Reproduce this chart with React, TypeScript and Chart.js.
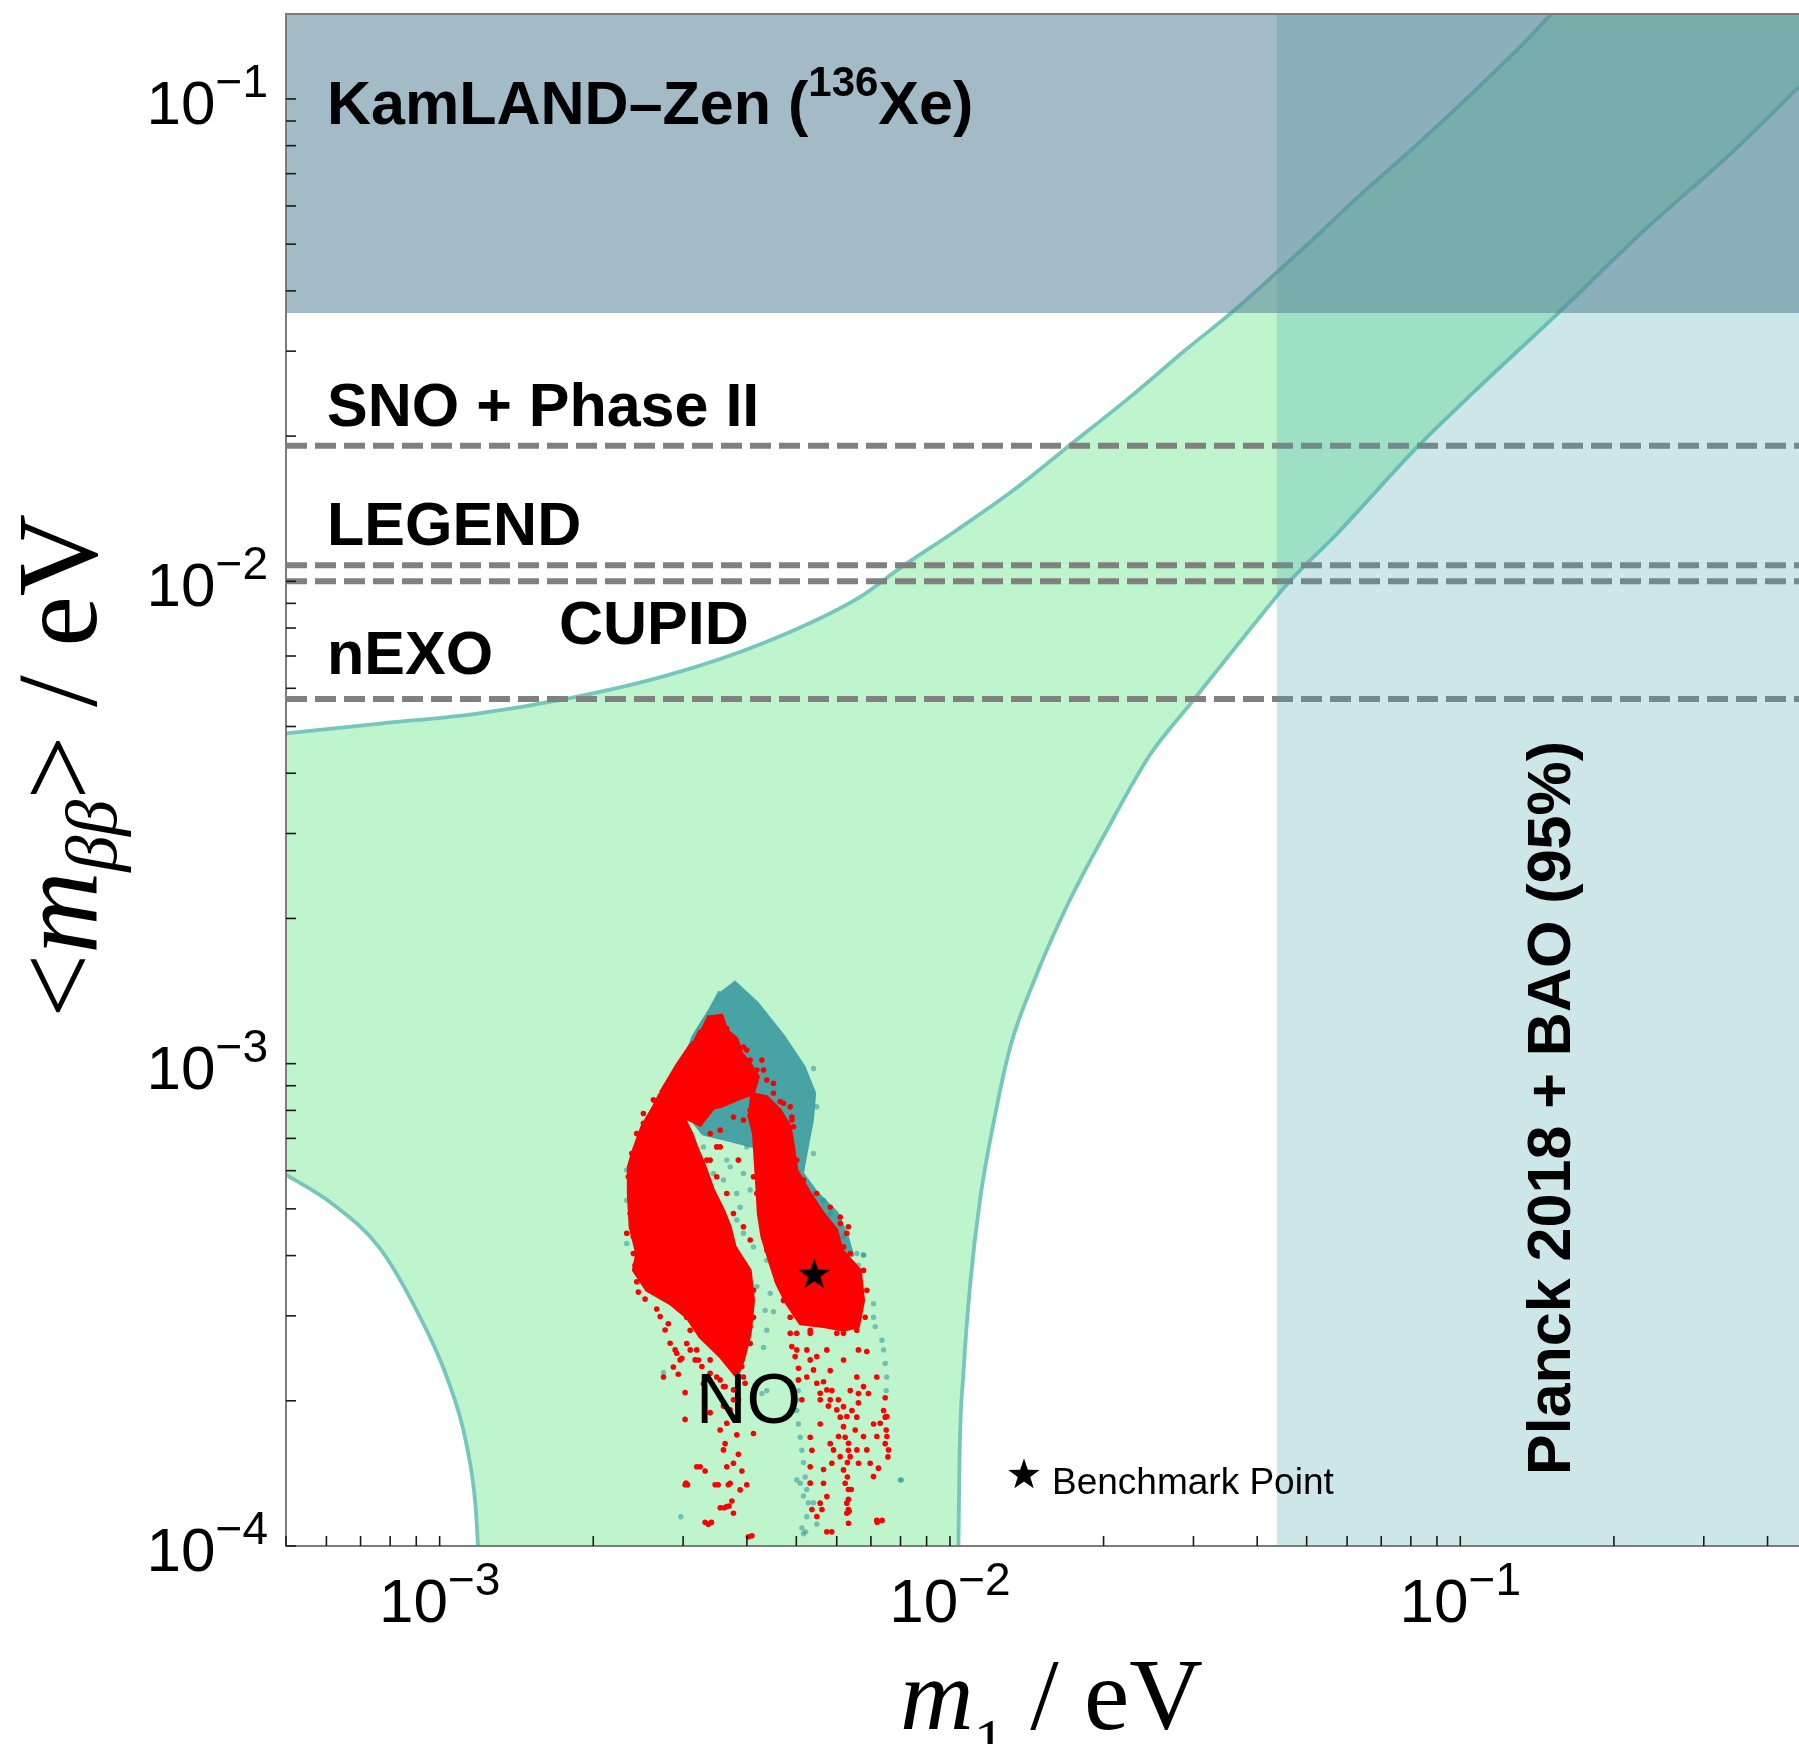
import React, { useEffect, useRef } from 'react';
import { Chart, registerables } from 'chart.js';

Chart.register(...registerables);

// ---------------- axis ranges (eV) ----------------
const X_MIN = 5e-4;
const X_MAX = 0.461;
const Y_MIN = 1e-4;
const Y_MAX = 0.15;

// ---------------- NO allowed band boundaries (eV) ----------------
const upperCurveM1 = [5.0e-4, 7.64e-4, 1.176e-3, 1.81e-3, 2.79e-3, 4.3e-3, 6.61e-3, 8.02e-3, 1.034e-2, 1.341e-2, 1.736e-2, 2.25e-2, 2.91e-2, 3.58e-2, 4.89e-2, 6.33e-2, 8.19e-2, 0.1062, 0.1375, 0.1506];
const upperCurveMbb = [4.84e-3, 5.07e-3, 5.31e-3, 5.73e-3, 6.38e-3, 7.44e-3, 9.23e-3, 1.069e-2, 1.279e-2, 1.553e-2, 1.933e-2, 2.406e-2, 3.03e-2, 3.62e-2, 4.87e-2, 6.29e-2, 8.01e-2, 0.1034, 0.1351, 0.15];
const lowerLeftM1 = [5.0e-4, 6.15e-4, 7.64e-4, 9.07e-4, 1.033e-3, 1.126e-3, 1.176e-3, 1.189e-3];
const lowerLeftMbb = [5.89e-4, 5.13e-4, 4.14e-4, 3.04e-4, 2.24e-4, 1.646e-4, 1.21e-4, 1.0e-4];
const lowerRightM1 = [1.039e-2, 1.044e-2, 1.063e-2, 1.095e-2, 1.146e-2, 1.217e-2, 1.312e-2, 1.458e-2, 1.694e-2, 2.03e-2, 2.47e-2, 3.0e-2, 3.77e-2, 4.64e-2, 5.71e-2, 8.19e-2, 0.1062, 0.1565, 0.2307, 0.34, 0.461];
const lowerRightMbb = [1.0e-4, 1.515e-4, 2.293e-4, 3.47e-4, 5.25e-4, 7.53e-4, 1.082e-3, 1.477e-3, 2.12e-3, 3.05e-3, 4.38e-3, 5.67e-3, 7.68e-3, 1.003e-2, 1.249e-2, 1.888e-2, 2.466e-2, 3.62e-2, 5.37e-2, 7.73e-2, 0.1059];

// ---------------- experimental limits (eV) ----------------
const kamlandLimit = 0.036;
const planckM1Limit = 0.0437;
const sensitivityNames = ['SNO + Phase II', 'LEGEND', 'CUPID', 'nEXO'];
const sensitivityValues = [0.0191, 0.0108, 0.0100, 0.0057];

// ---------------- scan regions (meV) ----------------
const tealCoreM1meV = [3.765, 4.183, 4.718, 5.164, 5.419, 5.364, 5.241, 5.127, 5.483, 6.001, 6.278, 6.43, 5.826, 5.088, 4.718, 4.183, 3.71, 3.288, 3.097, 2.915, 2.983, 3.143, 3.389, 3.546];
const tealCoreMbbmeV = [1.478, 1.334, 1.137, 0.985, 0.868, 0.764, 0.672, 0.592, 0.538, 0.489, 0.438, 0.401, 0.411, 0.521, 0.631, 0.672, 0.694, 0.716, 0.775, 0.841, 0.97, 1.137, 1.291, 1.41];

const redTopM1meV = [3.338, 3.573, 3.653, 3.822, 3.911, 4.06, 4.212, 4.121, 3.822, 3.546, 3.288, 3.049, 2.983, 3.027, 3.097, 3.24];
const redTopMbbmeV = [1.25, 1.26, 1.174, 1.127, 1.05, 1.001, 0.939, 0.868, 0.841, 0.814, 0.801, 0.814, 0.868, 0.97, 1.067, 1.174];

const redBridgeM1meV = [2.705, 2.906, 3.097, 3.313, 3.546, 3.24, 2.96];
const redBridgeMbbmeV = [0.87, 0.988, 1.092, 1.146, 0.841, 0.746, 0.782];

const redLeftM1meV = [2.766, 2.871, 2.983, 3.121, 3.19, 3.313, 3.44, 3.599, 3.71, 3.794, 4.06, 4.121, 4.06, 3.939, 3.822, 3.546, 3.24, 3.049, 2.829, 2.545, 2.397, 2.433, 2.362, 2.343, 2.343, 2.397, 2.49, 2.624, 2.705];
const redLeftMbbmeV = [0.895, 0.868, 0.788, 0.716, 0.672, 0.611, 0.547, 0.497, 0.459, 0.417, 0.373, 0.323, 0.276, 0.243, 0.224, 0.247, 0.271, 0.298, 0.318, 0.339, 0.373, 0.404, 0.459, 0.538, 0.611, 0.662, 0.74, 0.814, 0.868];

const redRightM1meV = [4.06, 4.376, 4.649, 4.864, 4.937, 5.01, 5.323, 5.653, 6.001, 6.142, 6.671, 6.771, 6.616, 6.187, 5.653, 5.088, 4.788, 4.577, 4.444, 4.281, 4.212, 4.183, 4.152, 4.121, 4.027];
const redRightMbbmeV = [0.868, 0.854, 0.801, 0.74, 0.672, 0.602, 0.538, 0.489, 0.452, 0.411, 0.373, 0.323, 0.285, 0.28, 0.285, 0.289, 0.318, 0.35, 0.385, 0.438, 0.489, 0.556, 0.631, 0.716, 0.788];

// ---------------- scan points (meV) ----------------
const redM1meV = [
  2.415, 2.433, 2.451, 2.527, 2.585, 2.663, 2.746, 2.806, 2.871, 2.935, 2.983, 3.027, 3.027, 3.097, 3.19, 3.313, 3.362, 3.466, 3.546, 3.626,
  3.679, 3.739, 3.822, 3.911, 3.998, 4.121, 4.027, 3.389, 3.599, 3.939, 3.653, 3.027, 3.849, 3.215, 2.915,
  4.864, 5.01, 5.046, 5.127, 5.323, 5.323, 5.364, 5.569, 5.653, 5.612, 5.736, 5.826, 5.87, 6.045, 6.187, 6.233, 6.296, 6.324, 6.324, 6.426,
  6.521, 6.616, 6.771, 6.921, 7.084, 7.188, 7.241, 7.188, 7.412, 7.467, 7.558, 6.871, 6.616, 5.736, 5.483, 5.826, 5.241, 5.653, 6.377, 6.568, 6.095,
  3.04, 3.313, 3.24, 3.691, 7.2, 6.345, 3.061, 3.514, 3.61, 3.409, 4.092, 6.406, 7.362, 5.866,
  3.998, 4.281, 4.312, 4.511, 4.649, 4.864, 4.901, 4.864, 3.546, 3.491, 3.849, 3.338, 3.765, 3.939, 4.06, 3.24, 2.508, 2.362, 2.326, 6.278,
  6.377, 6.095, 2.829, 3.653,
  7.467, 7.467, 7.499, 6.324, 6.296, 6.324, 5.364, 5.323, 6.568, 6.616, 5.778, 5.569, 5.01, 5.323, 6.187, 3.491, 3.288, 3.599, 3.765, 3.19, 3.049,
];
const redMbbmeV = [
  0.382, 0.353, 0.336, 0.325, 0.35, 0.31, 0.224, 0.289, 0.235, 0.227, 0.245, 0.208, 0.183, 0.28, 0.146, 0.143, 0.111, 0.134, 0.12, 0.163,
  0.134, 0.124, 0.17, 0.143, 0.134, 0.171, 0.1045, 0.189, 0.195, 0.224, 0.146, 0.134, 0.155, 0.243, 0.251,
  0.276, 0.255, 0.221, 0.201, 0.168, 0.146, 0.119, 0.179, 0.144, 0.119, 0.107, 0.163, 0.21, 0.201, 0.243, 0.168, 0.149, 0.131, 0.119, 0.191,
  0.174, 0.198, 0.214, 0.207, 0.179, 0.224, 0.145, 0.113, 0.191, 0.163, 0.153, 0.253, 0.255, 0.255, 0.247, 0.231, 0.224, 0.219, 0.21, 0.224, 0.185,
  0.135, 0.112, 0.146, 0.121, 0.112, 0.118, 0.134, 0.134, 0.12, 0.112, 0.105, 0.131, 0.113, 0.107,
  1.067, 1.017, 0.97, 0.91, 0.834, 0.814, 0.764, 0.683, 0.728, 0.672, 0.631, 0.631, 0.775, 0.764, 0.801, 0.752, 0.752, 0.547, 0.445, 0.445,
  0.404, 0.466, 0.918, 1.182,
  0.203, 0.185, 0.174, 0.158, 0.139, 0.125, 0.158, 0.135, 0.185, 0.207, 0.195, 0.201, 0.276, 0.276, 0.276, 0.224, 0.217, 0.214, 0.201, 0.255, 0.263,
];
// red points scattered along the edges of the dense regions
const redEdgeM1meV = [
  3.143, 3.097, 2.983, 2.915, 2.806, 2.624, 2.508, 2.433, 2.38, 2.343, 2.362, 2.397, 2.471, 3.939, 4.06, 4.183, 4.376, 4.511, 4.718, 4.901,
  4.937, 4.788, 5.01, 5.164, 5.483, 5.826, 6.095, 6.324, 6.187, 3.389, 3.546, 3.389, 3.491, 3.653, 3.765, 3.939, 4.06, 4.183, 4.121, 4.183,
  4.248, 4.312, 4.376, 2.397, 2.508, 2.624, 2.915, 3.049, 3.19, 4.121, 4.121, 4.06, 4.511, 4.577, 4.718, 4.864, 6.771, 6.871, 6.821, 6.568,
  5.323, 6.001,
];
const redEdgeMbbmeV = [
  1.101, 1.033, 0.939, 0.91, 0.888, 0.841, 0.788, 0.716, 0.651, 0.583, 0.489, 0.438, 0.411, 1.083, 1.017, 0.97, 0.925, 0.868, 0.828, 0.775,
  0.74, 0.694, 0.631, 0.574, 0.538, 0.504, 0.481, 0.459, 0.417, 0.716, 0.672, 0.631, 0.583, 0.538, 0.489, 0.459, 0.431, 0.631, 0.583, 0.538,
  0.489, 0.445, 0.411, 0.404, 0.373, 0.356, 0.323, 0.298, 0.285, 0.339, 0.298, 0.263, 0.391, 0.356, 0.323, 0.298, 0.373, 0.339, 0.298, 0.28,
  0.28, 0.276,
];
// red points in the sparse streaks below the dense lobes
const redStreakM1meV = [
  2.705, 2.766, 2.829, 2.894, 2.96, 3.097, 3.168, 3.265, 3.389, 3.545, 3.626, 3.765, 3.851, 3.389, 3.492, 3.653, 3.822, 3.939, 3.998, 4.058,
  3.909, 3.968, 3.709, 3.822, 3.653, 3.545, 3.599, 3.765, 3.709, 3.88, 3.765, 3.653,
  4.899, 4.973, 5.049, 5.243, 5.322, 5.403, 5.484, 5.568, 5.738, 5.825, 6.002, 6.186, 6.279, 6.186, 6.327, 6.374, 6.57, 6.619, 6.77, 6.872,
  6.976, 7.082, 7.19, 7.299, 7.522, 7.522, 7.579, 6.279, 6.279, 6.327, 5.652, 5.738, 5.568, 5.484, 5.869, 5.913, 6.048, 6.093, 6.186, 6.232,
];
const redStreakMbbmeV = [
  0.299, 0.2805, 0.2632, 0.255, 0.2431, 0.255, 0.2431, 0.2355, 0.2281, 0.221, 0.2141, 0.2107, 0.2009, 0.2431, 0.255, 0.2431, 0.247, 0.255, 0.2717, 0.285,
  0.2355, 0.2175, 0.1915, 0.1855, 0.1797, 0.174, 0.1582, 0.1484, 0.1349, 0.1307, 0.1169, 0.1207,
  0.2591, 0.247, 0.2336, 0.255, 0.2431, 0.2318, 0.2175, 0.2073, 0.2107, 0.2009, 0.1915, 0.1945, 0.1855, 0.1768, 0.1633, 0.1532, 0.1582, 0.1484, 0.1686, 0.1582,
  0.1484, 0.1393, 0.1686, 0.1797, 0.1855, 0.1686, 0.1582, 0.1227, 0.1169, 0.1115, 0.1349, 0.1266, 0.1227, 0.1151, 0.1484, 0.1582, 0.1686, 0.1532, 0.1438, 0.1349,
];
const tealM1meV = [
  5.01, 5.046, 5.088, 5.127, 5.164, 5.203, 5.241, 5.279, 5.241, 5.127, 5.164, 5.403, 5.483, 5.01, 5.088, 5.323, 5.164, 7.358, 7.412, 7.467,
  7.521, 7.499, 7.084, 7.084, 7.137, 6.616, 6.771, 2.969, 7.99, 4.312, 4.344, 4.511, 4.444, 4.183, 4.281, 4.376, 4.376, 3.143, 2.746, 2.624,
  2.326, 2.326, 2.326, 2.397, 3.19, 3.44, 3.599, 3.71, 3.822, 3.881, 3.939, 4.06, 3.822, 3.939, 4.121, 3.653, 3.288, 3.998, 5.403, 5.653,
  5.826, 6.187, 6.568, 6.771, 5.483, 5.403, 5.403, 5.216, 8.03, 5.046, 5.01, 4.376, 4.577,
];
const tealMbbmeV = [
  0.191, 0.179, 0.168, 0.158, 0.149, 0.139, 0.131, 0.123, 0.115, 0.109, 0.106, 0.123, 0.111, 0.137, 0.135, 0.135, 0.127, 0.267, 0.255, 0.239,
  0.224, 0.21, 0.318, 0.298, 0.285, 0.382, 0.401, 0.115, 0.137, 0.258, 0.308, 0.306, 0.334, 0.345, 0.207, 0.21, 0.28, 0.391, 0.229, 0.339,
  0.602, 0.521, 0.424, 0.631, 0.631, 0.592, 0.574, 0.611, 0.538, 0.504, 0.592, 0.547, 0.474, 0.445, 0.417, 0.631, 0.672, 0.672, 0.538, 0.521,
  0.489, 0.438, 0.404, 0.401, 0.814, 0.651, 0.977, 0.107, 0.137, 0.21, 0.201, 0.391, 0.373,
];
const benchmarkM1 = 5.42e-3;
const benchmarkMbb = 3.65e-4;

const xTickDecades = [-3, -2, -1];
const yTickDecades = [-4, -3, -2, -1];

// ---------------- styles ----------------
const MEV = 1e-3;
const SANS = '"Liberation Sans", Arial, Helvetica, sans-serif';
const SERIF = '"Liberation Serif", "Times New Roman", serif';
const GREEN = 'rgb(190,245,205)';
const CURVE = 'rgb(118,198,188)';
const DASH = 'rgb(128,128,128)';
const PLANCK = 'rgba(76,169,173,0.28)';
const KAMLAND = 'rgba(88,132,152,0.55)';
const TEAL_CORE = 'rgb(72,164,164)';
const TEAL_DOT = 'rgba(35,140,145,0.5)';
const RED = 'rgb(255,0,0)';

const pts = (xs: number[], ys: number[], k = 1) => xs.map((v, i) => ({ x: v * k, y: ys[i] * k }));

function drawStar(ctx: CanvasRenderingContext2D, cx: number, cy: number, R: number, r: number) {
  ctx.beginPath();
  for (let i = 0; i < 10; i++) {
    const ang = -Math.PI / 2 + (i * Math.PI) / 5;
    const rad = i % 2 === 0 ? R : r;
    const px = cx + rad * Math.cos(ang);
    const py = cy + rad * Math.sin(ang);
    if (i === 0) ctx.moveTo(px, py);
    else ctx.lineTo(px, py);
  }
  ctx.closePath();
  ctx.fill();
}

function drawPow(ctx: CanvasRenderingContext2D, exp: number, x: number, base: number, align: 'right' | 'center') {
  const main = `62px ${SANS}`;
  const sup = `46px ${SANS}`;
  ctx.font = main;
  const w1 = ctx.measureText('10').width;
  ctx.font = sup;
  const s = '\u2212' + Math.abs(exp);
  const w2 = ctx.measureText(s).width;
  const x0 = align === 'right' ? x - w1 - w2 : x - (w1 + w2) / 2;
  ctx.textAlign = 'left';
  ctx.textBaseline = 'alphabetic';
  ctx.font = main;
  ctx.fillText('10', x0, base);
  ctx.font = sup;
  ctx.fillText(s, x0 + w1, base - 27);
}

type Seg = { t: string; font: string; dy?: number };
function drawSegs(ctx: CanvasRenderingContext2D, segs: Seg[], x: number, y: number, center: boolean) {
  let total = 0;
  for (const s of segs) {
    ctx.font = s.font;
    total += ctx.measureText(s.t).width;
  }
  let cx = center ? x - total / 2 : x;
  ctx.textAlign = 'left';
  ctx.textBaseline = 'alphabetic';
  for (const s of segs) {
    ctx.font = s.font;
    ctx.fillText(s.t, cx, y + (s.dy || 0));
    cx += ctx.measureText(s.t).width;
  }
}

const decorations = {
  id: 'decorations',
  afterDatasetsDraw(chart: any) {
    const { ctx, chartArea: a, scales } = chart;
    const xs = scales.x;
    const ys = scales.y;
    ctx.save();
    // frame
    ctx.strokeStyle = '#7c7c7c';
    ctx.lineWidth = 2;
    ctx.beginPath();
    ctx.moveTo(a.right + 2, a.top);
    ctx.lineTo(a.left, a.top);
    ctx.lineTo(a.left, a.bottom);
    ctx.lineTo(a.right + 2, a.bottom);
    ctx.stroke();
    // ticks (inward)
    ctx.strokeStyle = '#1a1a1a';
    ctx.lineWidth = 1.6;
    const TL = 10;
    for (let d = -5; d <= 0; d++) {
      for (let k = 1; k <= 9; k++) {
        const v = k * Math.pow(10, d);
        if (v >= Y_MIN * 0.999 && v <= Y_MAX) {
          const p = ys.getPixelForValue(v);
          ctx.beginPath();
          ctx.moveTo(a.left, p);
          ctx.lineTo(a.left + TL, p);
          ctx.stroke();
        }
        if (v >= X_MIN * 0.999 && v <= X_MAX) {
          const p = xs.getPixelForValue(v);
          ctx.beginPath();
          ctx.moveTo(p, a.bottom);
          ctx.lineTo(p, a.bottom - TL);
          ctx.stroke();
        }
      }
    }
    // tick labels
    ctx.fillStyle = '#000';
    for (const d of yTickDecades) {
      const p = ys.getPixelForValue(Math.pow(10, d));
      drawPow(ctx, d, a.left - 18, p + 25, 'right');
    }
    for (const d of xTickDecades) {
      const p = xs.getPixelForValue(Math.pow(10, d));
      drawPow(ctx, d, p, a.bottom + 76, 'center');
    }
    // axis titles
    drawSegs(ctx, [
      { t: 'm', font: `italic 102px ${SERIF}` },
      { t: '1', font: `62px ${SERIF}`, dy: 32 },
      { t: ' / eV', font: `102px ${SERIF}` },
    ], 900, 1729, false);
    ctx.save();
    ctx.translate(96, 766);
    ctx.rotate(-Math.PI / 2);
    drawSegs(ctx, [
      { t: '<', font: `114px ${SERIF}` },
      { t: 'm', font: `italic 114px ${SERIF}` },
      { t: '\u03B2\u03B2', font: `italic 72px ${SERIF}`, dy: 20 },
      { t: '>', font: `114px ${SERIF}` },
      { t: ' / eV', font: `114px ${SERIF}` },
    ], 0, 0, true);
    ctx.restore();

    // annotations
    const B = `bold 61px ${SANS}`;
    drawSegs(ctx, [
      { t: 'KamLAND\u2013Zen (', font: B },
      { t: '136', font: `bold 42px ${SANS}`, dy: -28 },
      { t: 'Xe)', font: B },
    ], 327, 124, false);
    ctx.font = B;
    ctx.textAlign = 'left';
    ctx.fillText(sensitivityNames[0], 327, 426);
    ctx.fillText(sensitivityNames[1], 327, 545);
    ctx.fillText(sensitivityNames[2], 559, 644);
    ctx.fillText(sensitivityNames[3], 327, 674);
    ctx.font = `70px ${SANS}`;
    ctx.fillText('NO', 696, 1423);
    ctx.save();
    ctx.translate(1570, 1475);
    ctx.rotate(-Math.PI / 2);
    ctx.font = B;
    ctx.fillText('Planck 2018 + BAO (95%)', 0, 0);
    ctx.restore();
    // benchmark legend
    drawStar(ctx, 1024, 1475, 16.5, 6.6);
    ctx.font = `37px ${SANS}`;
    ctx.fillText('Benchmark Point', 1052, 1494);
    ctx.restore();
  },
};

export default function App() {
  const ref = useRef<HTMLCanvasElement>(null);
  useEffect(() => {
    if (!ref.current) return;
    document.documentElement.style.overflow = 'hidden';
    document.body.style.overflow = 'hidden';

    const star = document.createElement('canvas');
    star.width = 40;
    star.height = 40;
    const sctx = star.getContext('2d') as CanvasRenderingContext2D;
    sctx.fillStyle = '#000';
    drawStar(sctx, 20, 20, 16.5, 6.6);

    const poly = (data: any[], color: string, order: number, bw = 0) => ({
      type: 'line',
      data,
      fill: 'shape',
      backgroundColor: color,
      borderColor: color,
      borderWidth: bw,
      borderJoinStyle: 'round',
      pointRadius: 0,
      tension: 0,
      order,
    });
    const curve = (data: any[]) => ({
      type: 'line',
      data,
      fill: false,
      borderColor: CURVE,
      borderWidth: 3.8,
      cubicInterpolationMode: 'monotone',
      pointRadius: 0,
      order: 95,
    });

    const datasets: any[] = [
      // NO allowed band: fill between upper boundary (closed along top edge) and lower boundary
      {
        type: 'line',
        data: [...pts(upperCurveM1, upperCurveMbb), { x: X_MAX, y: Y_MAX }],
        fill: '+1',
        backgroundColor: GREEN,
        borderWidth: 0,
        cubicInterpolationMode: 'monotone',
        pointRadius: 0,
        order: 100,
      },
      {
        type: 'line',
        data: [...pts(lowerLeftM1, lowerLeftMbb), ...pts(lowerRightM1, lowerRightMbb)],
        fill: false,
        borderWidth: 0,
        cubicInterpolationMode: 'monotone',
        pointRadius: 0,
        order: 99,
      },
      curve(pts(upperCurveM1, upperCurveMbb)),
      curve(pts(lowerLeftM1, lowerLeftMbb)),
      curve(pts(lowerRightM1, lowerRightMbb)),
      ...sensitivityValues.map((v, i) => ({
        type: 'line',
        label: sensitivityNames[i],
        data: [{ x: X_MIN, y: v }, { x: X_MAX, y: v }],
        fill: false,
        borderColor: DASH,
        borderWidth: 6,
        borderDash: [21, 8],
        borderCapStyle: 'butt',
        pointRadius: 0,
        order: 90,
      })),
      poly([
        { x: planckM1Limit, y: Y_MIN },
        { x: X_MAX, y: Y_MIN },
        { x: X_MAX, y: Y_MAX },
        { x: planckM1Limit, y: Y_MAX },
      ], PLANCK, 80),
      poly([
        { x: X_MIN, y: kamlandLimit },
        { x: X_MAX, y: kamlandLimit },
        { x: X_MAX, y: Y_MAX },
        { x: X_MIN, y: Y_MAX },
      ], KAMLAND, 75),
      poly(pts(tealCoreM1meV, tealCoreMbbmeV, MEV), TEAL_CORE, 60, 4),
      {
        type: 'scatter',
        data: pts(tealM1meV, tealMbbmeV, MEV),
        backgroundColor: TEAL_DOT,
        borderWidth: 0,
        pointRadius: 2.7,
        order: 55,
      },
      poly(pts(redTopM1meV, redTopMbbmeV, MEV), RED, 50, 3),
      poly(pts(redBridgeM1meV, redBridgeMbbmeV, MEV), RED, 50, 3),
      poly(pts(redLeftM1meV, redLeftMbbmeV, MEV), RED, 50, 3),
      poly(pts(redRightM1meV, redRightMbbmeV, MEV), RED, 50, 3),
      {
        type: 'scatter',
        data: [
          ...pts(redM1meV, redMbbmeV, MEV),
          ...pts(redEdgeM1meV, redEdgeMbbmeV, MEV),
          ...pts(redStreakM1meV, redStreakMbbmeV, MEV),
        ],
        backgroundColor: RED,
        borderWidth: 0,
        pointRadius: 2.8,
        order: 45,
      },
      {
        type: 'scatter',
        data: [{ x: benchmarkM1, y: benchmarkMbb }],
        pointStyle: star,
        pointRadius: 16,
        order: 10,
      },
    ];

    const chart = new Chart(ref.current, {
      type: 'scatter',
      data: { datasets },
      options: {
        responsive: false,
        animation: false,
        devicePixelRatio: 1,
        events: [],
        layout: { autoPadding: false, padding: { top: 14, right: 0, bottom: 0, left: 0 } },
        plugins: {
          legend: { display: false },
          tooltip: { enabled: false },
          title: { display: false },
        },
        scales: {
          x: {
            type: 'logarithmic',
            min: X_MIN,
            max: X_MAX,
            grid: { display: false },
            border: { display: false },
            ticks: { display: false },
            afterFit: (s: any) => { s.height = 198; },
          },
          y: {
            type: 'logarithmic',
            min: Y_MIN,
            max: Y_MAX,
            grid: { display: false },
            border: { display: false },
            ticks: { display: false },
            afterFit: (s: any) => { s.width = 286; },
          },
        },
      } as any,
      plugins: [decorations],
    } as any);
    return () => chart.destroy();
  }, []);

  return (
    <div style={{ position: 'fixed', left: 0, top: 0, width: 1799, height: 1744, background: '#fff', overflow: 'hidden' }}>
      <canvas ref={ref} width={1799} height={1744} style={{ display: 'block', width: 1799, height: 1744 }} />
    </div>
  );
}
